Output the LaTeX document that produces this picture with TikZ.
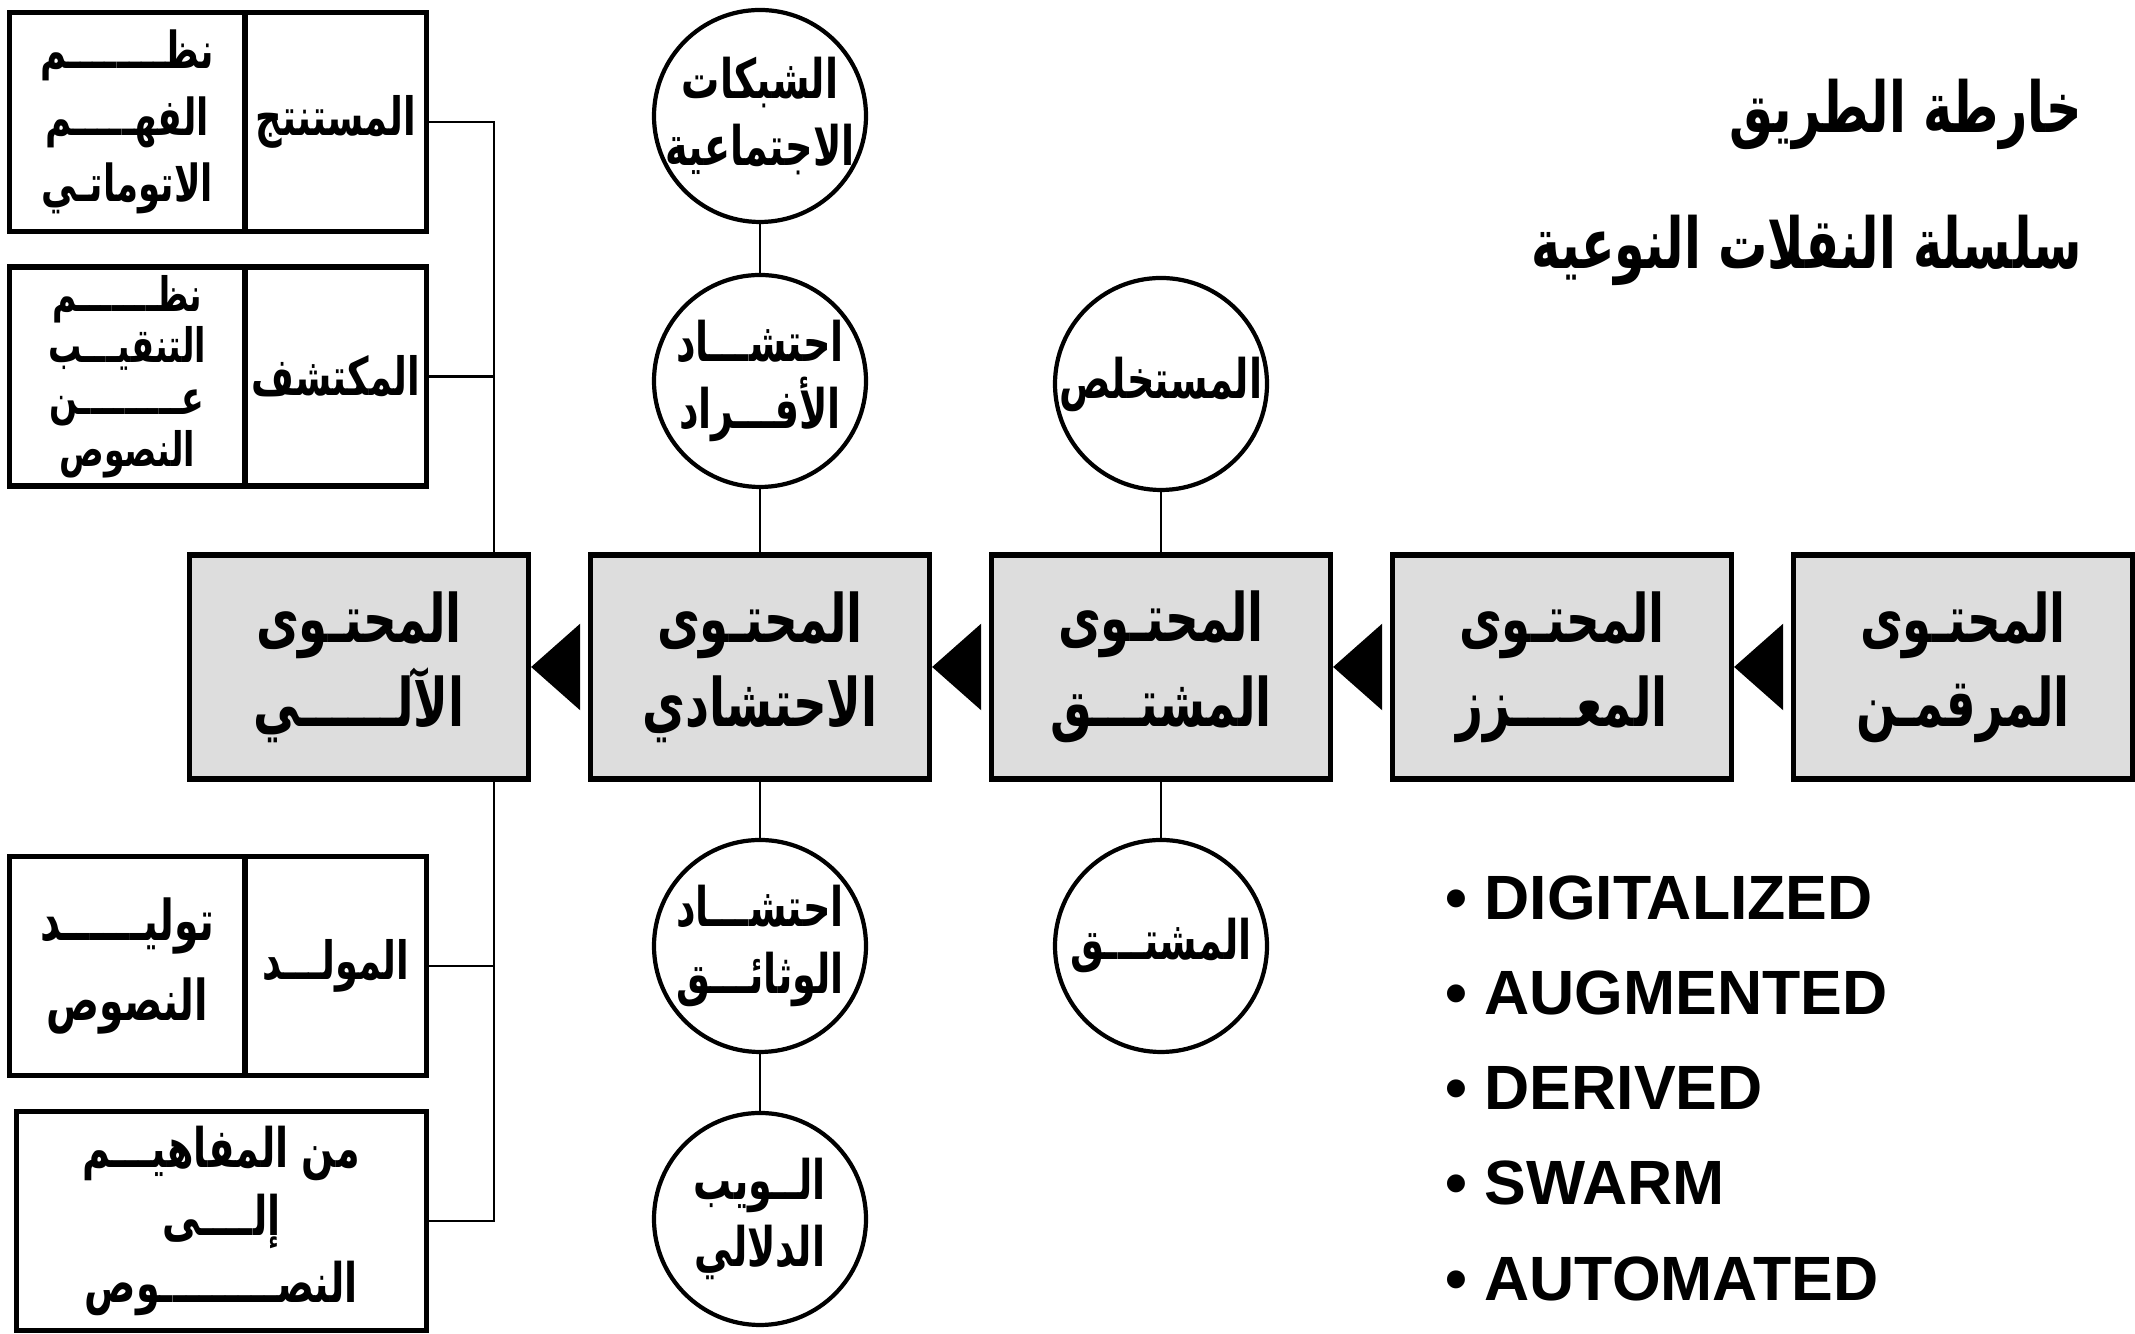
\documentclass[tikz,border=0pt]{standalone}
\usepackage{fontspec}
\setmainfont{Liberation Sans}
\newfontfamily\arabicfont[Script=Arabic,FakeStretch=0.7]{DejaVu Sans}
\TeXXeTstate=1
\usetikzlibrary{positioning,arrows.meta}
\definecolor{stagegray}{RGB}{221,221,221}
\newcommand{\artext}[1]{\beginR #1\endR}

\begin{document}
\begin{tikzpicture}[-,thick,node distance=4.01cm,
    stage node/.style={rectangle,draw,line width=1.5pt,fill=stagegray,minimum width=3.39cm,minimum height=2.24cm,align=center,font=\arabicfont\bfseries\fontsize{19}{24}\selectfont},
    topic node/.style={circle,draw,line width=1.2pt,minimum size=2.12cm,inner sep=-2.5mm,align=center,font=\arabicfont\bfseries\fontsize{15.5}{19}\selectfont},
    cell node/.style={rectangle,draw,line width=1.5pt,outer sep=0pt,minimum height=2.19cm,inner sep=1pt,align=center,font=\arabicfont\bfseries\fontsize{15}{19}\selectfont},
    title node/.style={anchor=east,inner sep=0pt,font=\arabicfont\bfseries\fontsize{20}{24}\selectfont},
    link/.style={line width=0.8pt},
    push/.style={-{Triangle[length=0.49cm,width=0.86cm]},line width=0.8pt,shorten <=0.08cm}]

    \useasboundingbox (0,0) rectangle (21.35,13.34);

    % the chain of content stages
    \node[stage node] (5) at (19.63,6.67) {\artext{المحتـوى}\\\artext{المرقمـن}};
    \node[stage node] (4) [left of = 5] {\artext{المحتـوى}\\\artext{المعــــزز}};
    \node[stage node] (3) [left of = 4] {\artext{المحتـوى}\\\artext{المشتـــق}};
    \node[stage node] (2) [left of = 3] {\artext{المحتـوى}\\\artext{الاحتشادي}};
    \node[stage node] (1) [left of = 2] {\artext{المحتـوى}\\\artext{الآلــــــي}};

    \node[topic node] (7) [node distance=2.86cm, above of = 2] {\artext{احتشـــاد}\\\artext{الأفـــراد}};
    \node[topic node] (6) [node distance=2.65cm, above of = 7] {\artext{الشبكات}\\\artext{الاجتماعية}};
    \node[topic node] (8) [node distance=2.79cm, below of = 2] {\artext{احتشـــاد}\\\artext{الوثائـــق}};
    \node[topic node] (9) [node distance=2.73cm, below of = 8] {\artext{الــويب}\\\artext{الدلالي}};
    \node[topic node] (10) [node distance=2.83cm, above of = 3] {\artext{المستخلص}};
    \node[topic node] (11) [node distance=2.79cm, below of = 3] {\artext{المشتـــق}};

    % the automated stage and its kinds
    \node[cell node,minimum width=1.815cm] (12) at (3.3575,12.12) {\artext{المستنتج}};
    \node[cell node,minimum width=2.355cm,font=\arabicfont\bfseries\fontsize{14.5}{19}\selectfont] (13) [left=0pt of 12] {\artext{نظــــــــم}\\\artext{الفهـــــم}\\\artext{الاتوماتـي}};
    \node[cell node,minimum width=1.815cm] (14) at (3.3575,9.575) {\artext{المكتشف}};
    \node[cell node,minimum width=2.355cm,font=\arabicfont\bfseries\fontsize{13.5}{14.7}\selectfont] (15) [left=0pt of 14] {\artext{نظـــــــم}\\\artext{التنقيـــب}\\\artext{عـــــــــن}\\\artext{النصوص}};
    \node[cell node,minimum width=1.815cm] (16) at (3.3575,3.68) {\artext{المولـــد}};
    \node[cell node,minimum width=2.355cm,font=\arabicfont\bfseries\fontsize{16}{23}\selectfont] (17) [left=0pt of 16] {\artext{توليــــــد}\\\artext{النصوص}};
    \node[cell node,minimum width=4.10cm,font=\arabicfont\bfseries\fontsize{15.5}{19.3}\selectfont] (18) at (2.213,1.13) {\artext{من المفاهيـــم}\\\artext{إلــــى}\\\artext{النصـــــــــوص}};

    \node[title node] (20) at (20.83,12.2) {\artext{خارطة الطريق}};
    \node[title node] (21) at (20.83,10.84) {\artext{سلسلة النقلات النوعية}};

    \node[anchor=west,align=left,inner sep=0pt,font=\bfseries\fontsize{17.8}{27.1}\selectfont] (19) at (14.44,2.46)
        {• DIGITALIZED\\• AUGMENTED\\• DERIVED\\• SWARM\\• AUTOMATED};

    \path[push]
        (2) edge (1)
        (3) edge (2)
        (4) edge (3)
        (5) edge (4)
    ;

    \path[link]
        (6) edge (7)
        (7) edge (2)
        (2) edge (8)
        (8) edge (9)
        (10) edge (3)
        (3) edge (11)
    ;

    \coordinate (bus) at (4.94,0);
    \draw[link] (12.east) -| (1.north -| bus);
    \draw[link] (1.south -| bus) |- (18.east);
    \draw[link] (14.east) -- (14.east -| bus);
    \draw[link] (16.east) -- (16.east -| bus);
\end{tikzpicture}
\end{document}
